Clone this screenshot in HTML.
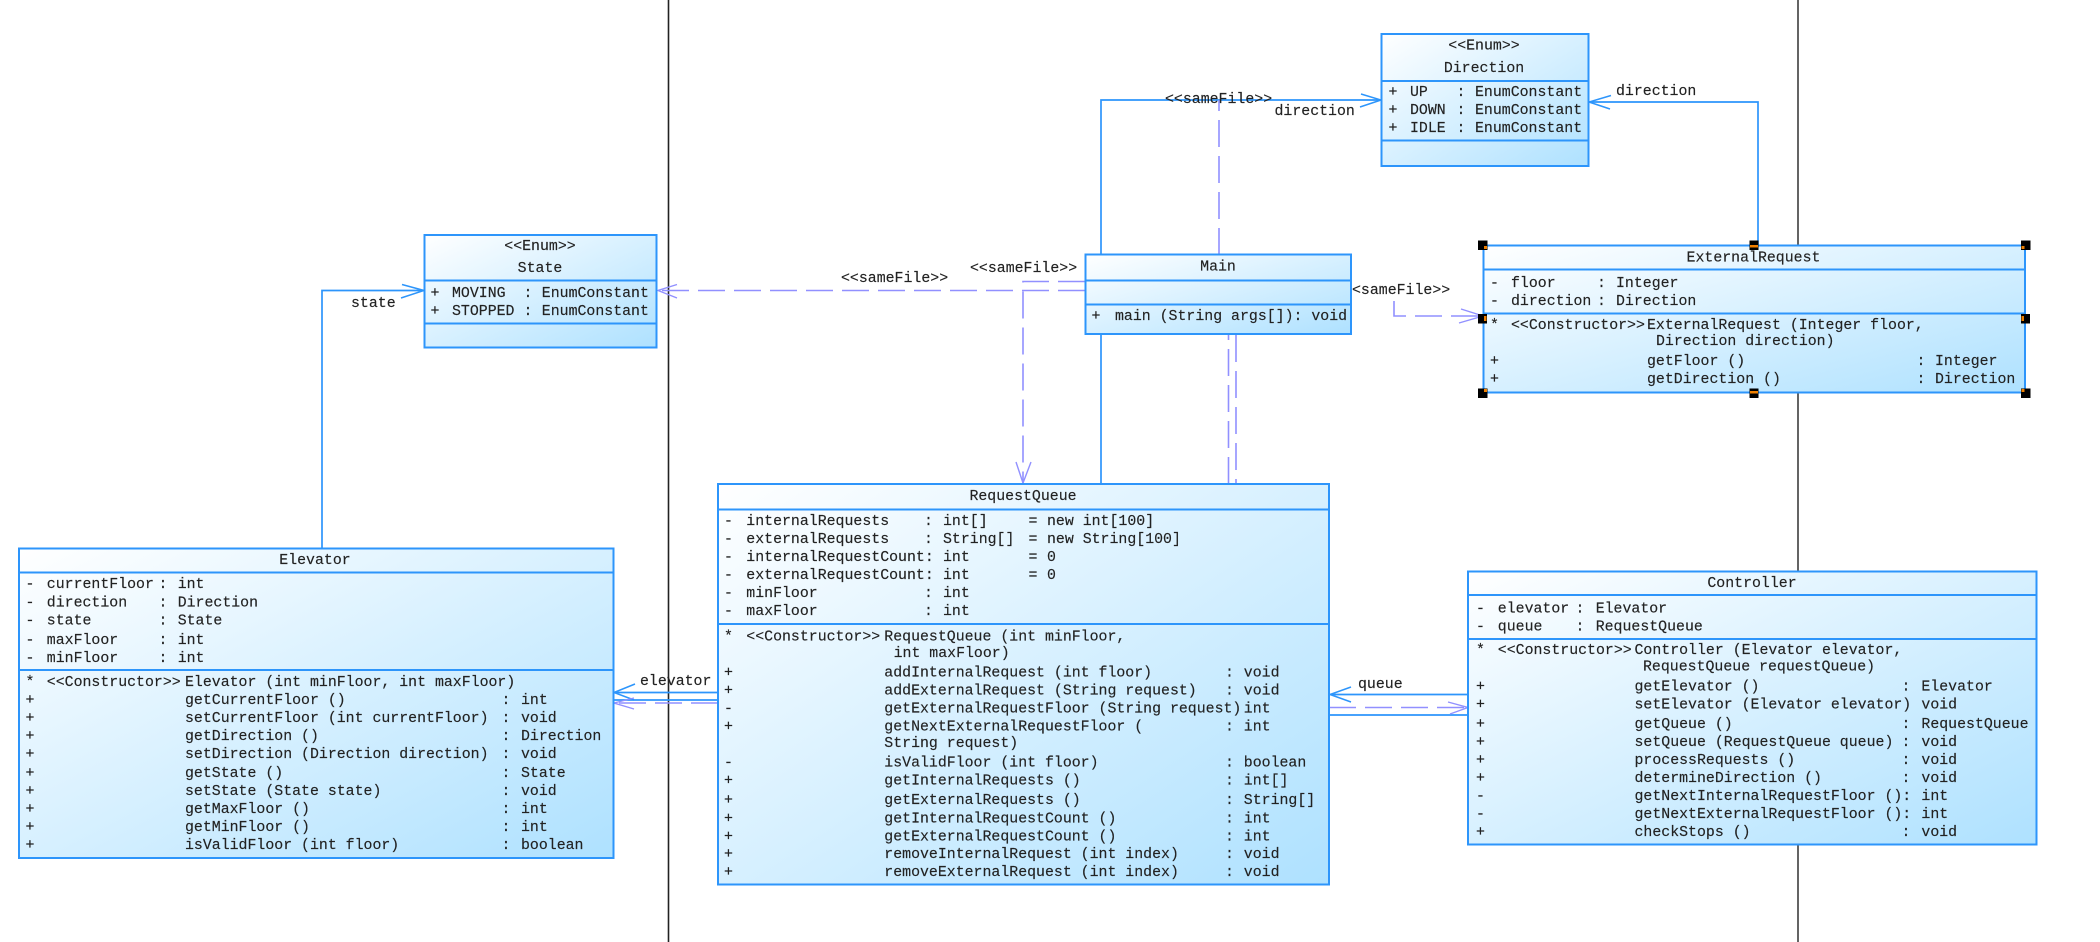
<!DOCTYPE html>
<html><head><meta charset="utf-8"><style>
html,body{margin:0;padding:0;background:#fff;width:2100px;height:942px;overflow:hidden}
svg{display:block}
text{font-family:"Liberation Mono",monospace;font-size:14.88px;fill:#222;white-space:pre;stroke:#222;stroke-width:.15}
.c{text-anchor:middle}
.box{fill:url(#g);stroke:#2d95fb;stroke-width:2}
.sep{stroke:#2d95fb;stroke-width:2}
.s{fill:none;stroke:#2d95fb;stroke-width:1.7}
.h{fill:none;stroke:#2d95fb;stroke-width:1.5}
.d{fill:none;stroke:#9190ff;stroke-width:1.6;stroke-dasharray:27 9}
.a{fill:none;stroke:#9190ff;stroke-width:1.4}
.t{filter:blur(.3px)}
</style></head><body>
<svg xmlns="http://www.w3.org/2000/svg" width="2100" height="942" viewBox="0 0 2100 942">
<defs><linearGradient id="g" x1="0" y1="0" x2="1" y2="1"><stop offset="0" stop-color="#fff"/><stop offset="1" stop-color="#aee1ff"/></linearGradient></defs>
<rect width="2100" height="942" fill="#fff"/>
<line x1="668.5" y1="0" x2="668.5" y2="942" stroke="#222" stroke-width="1.6"/>
<line x1="1798" y1="0" x2="1798" y2="942" stroke="#222" stroke-width="1.4"/>

<!-- connectors -->
<path class="s" d="M322 549V290.5H424"/>
<path class="h" d="M402 284.5L424 290.5L401 298"/>
<path class="s" d="M1101 484V100H1381"/>
<path class="h" d="M1361 94L1381 100L1360 107"/>
<path class="s" d="M1758 246V102H1588"/>
<path class="h" d="M1611 95.5L1589 102L1610 109"/>
<path class="s" d="M718 692.5H613"/>
<path class="s" d="M718 700H613"/>
<path class="h" d="M635 684L614 692.5L634 700"/>
<path class="s" d="M1468 694.5H1329"/>
<path class="s" d="M1468 715H1329"/>
<path class="h" d="M1351 687L1330 694.5L1351 702"/>

<path class="d" d="M1085 290.5H657"/>
<path class="a" d="M677 284.5L658 290.5L677 298"/>
<path class="d" d="M1085 281.5H1023V484"/>
<path class="a" d="M1016 462L1023 483L1031 462"/>
<path class="d" d="M1219 255V100"/>
<path class="d" d="M1228.5 484V335"/>
<path class="d" d="M1236 335V484"/>
<path class="d" d="M1394 301V316H1483"/>
<path class="a" d="M1461 309L1483 316L1459 323"/>
<path class="d" d="M718 703H613"/>
<path class="a" d="M634 698L614 703L634 709"/>
<path class="d" d="M1329 707.5H1468"/>
<path class="a" d="M1448 702L1468 707.5L1450 714"/>

<!-- State -->
<rect class="box" x="424.5" y="235" width="232" height="112.5"/>
<path class="sep" d="M424.5 280.5H656.5M424.5 323.5H656.5"/>
<!-- Direction -->
<rect class="box" x="1381.5" y="34" width="207" height="132"/>
<path class="sep" d="M1381.5 81H1588.5M1381.5 140.5H1588.5"/>
<!-- Main -->
<rect class="box" x="1085.5" y="254.5" width="265.5" height="79.5"/>
<path class="sep" d="M1085.5 280.5H1351M1085.5 304.5H1351"/>
<!-- ExternalRequest -->
<rect class="box" x="1483.5" y="245.5" width="541.5" height="147"/>
<path class="sep" d="M1483.5 269.5H2025M1483.5 313.5H2025"/>
<!-- Elevator -->
<rect class="box" x="19" y="548.5" width="594.5" height="309.5"/>
<path class="sep" d="M19 572.5H613.5M19 670H613.5"/>
<!-- RequestQueue -->
<rect class="box" x="718" y="484" width="611" height="400.5"/>
<path class="sep" d="M718 509.5H1329M718 624H1329"/>
<!-- Controller -->
<rect class="box" x="1468" y="571.5" width="568.5" height="273"/>
<path class="sep" d="M1468 595H2036.5M1468 639H2036.5"/>

<!-- handles -->
<g fill="#000">
<rect x="1478" y="240.5" width="9.5" height="9.5"/><rect x="1749.5" y="240.5" width="9" height="9.5"/><rect x="2021" y="240.5" width="9.5" height="9.5"/>
<rect x="1478" y="314" width="9" height="9.5"/><rect x="2021" y="314" width="9" height="9.5"/>
<rect x="1478" y="388.5" width="9.5" height="9.5"/><rect x="1749.5" y="388.5" width="9" height="9.5"/><rect x="2021" y="388.5" width="9.5" height="9.5"/>
</g>
<g fill="#f08000">
<rect x="1484" y="246" width="3" height="3"/><rect x="1750" y="245" width="8" height="2.5"/><rect x="2021.5" y="246" width="3" height="3"/>
<rect x="1484" y="316" width="2.5" height="5"/><rect x="2021.5" y="316" width="2.5" height="5"/>
<rect x="1484" y="389" width="3" height="3"/><rect x="1750" y="391" width="8" height="2.5"/><rect x="2021.5" y="389" width="3" height="3"/>
</g>

<g class="t">
<!-- connector labels -->
<text x="351" y="307">state</text>
<text x="841" y="282">&lt;&lt;sameFile&gt;&gt;</text>
<text x="970" y="272">&lt;&lt;sameFile&gt;&gt;</text>
<text x="1165" y="103">&lt;&lt;sameFile&gt;&gt;</text>
<text x="1274.5" y="115">direction</text>
<text x="1616" y="95">direction</text>
<text x="1352" y="294">&lt;sameFile&gt;&gt;</text>
<text x="640" y="685">elevator</text>
<text x="1358" y="688">queue</text>

<!-- State -->
<text class="c" x="540" y="250">&lt;&lt;Enum&gt;&gt;</text>
<text class="c" x="540" y="272">State</text>
<text x="430.5" y="297">+</text><text x="452" y="297">MOVING</text><text x="523.5" y="297">:</text><text x="541.8" y="297">EnumConstant</text>
<text x="430.5" y="315">+</text><text x="452" y="315">STOPPED</text><text x="523.5" y="315">:</text><text x="541.8" y="315">EnumConstant</text>

<!-- Direction -->
<text class="c" x="1484" y="49.5">&lt;&lt;Enum&gt;&gt;</text>
<text class="c" x="1484" y="72">Direction</text>
<text x="1388.5" y="96">+</text><text x="1410" y="96">UP</text><text x="1456.5" y="96">:</text><text x="1475" y="96">EnumConstant</text>
<text x="1388.5" y="114">+</text><text x="1410" y="114">DOWN</text><text x="1456.5" y="114">:</text><text x="1475" y="114">EnumConstant</text>
<text x="1388.5" y="132">+</text><text x="1410" y="132">IDLE</text><text x="1456.5" y="132">:</text><text x="1475" y="132">EnumConstant</text>

<!-- Main -->
<text class="c" x="1218" y="270.5">Main</text>
<text x="1091.5" y="320">+</text><text x="1115" y="320">main (String args[]): void</text>

<!-- ExternalRequest -->
<text class="c" x="1753.5" y="261.5">ExternalRequest</text>
<text x="1490" y="287">-</text><text x="1511" y="287">floor</text><text x="1597" y="287">:</text><text x="1616" y="287">Integer</text>
<text x="1490" y="305">-</text><text x="1511" y="305">direction</text><text x="1597" y="305">:</text><text x="1616" y="305">Direction</text>
<text x="1490" y="329">*</text><text x="1511" y="329">&lt;&lt;Constructor&gt;&gt;</text><text x="1647" y="329">ExternalRequest (Integer floor,</text>
<text x="1656" y="345">Direction direction)</text>
<text x="1490" y="365">+</text><text x="1647" y="365">getFloor ()</text><text x="1916.5" y="365">:</text><text x="1935" y="365">Integer</text>
<text x="1490" y="383">+</text><text x="1647" y="383">getDirection ()</text><text x="1916.5" y="383">:</text><text x="1935" y="383">Direction</text>

<!-- Elevator -->
<text class="c" x="315" y="564">Elevator</text>
<text x="25.5" y="588">-</text><text x="46.8" y="588">currentFloor</text><text x="158.5" y="588">:</text><text x="177.7" y="588">int</text>
<text x="25.5" y="606.5">-</text><text x="46.8" y="606.5">direction</text><text x="158.5" y="606.5">:</text><text x="177.7" y="606.5">Direction</text>
<text x="25.5" y="624.5">-</text><text x="46.8" y="624.5">state</text><text x="158.5" y="624.5">:</text><text x="177.7" y="624.5">State</text>
<text x="25.5" y="644">-</text><text x="46.8" y="644">maxFloor</text><text x="158.5" y="644">:</text><text x="177.7" y="644">int</text>
<text x="25.5" y="662">-</text><text x="46.8" y="662">minFloor</text><text x="158.5" y="662">:</text><text x="177.7" y="662">int</text>
<text x="25.5" y="686">*</text><text x="46.8" y="686">&lt;&lt;Constructor&gt;&gt;</text><text x="185" y="686">Elevator (int minFloor, int maxFloor)</text>
<text x="25.5" y="704">+</text><text x="185" y="704">getCurrentFloor ()</text><text x="501.5" y="704">:</text><text x="521" y="704">int</text>
<text x="25.5" y="722">+</text><text x="185" y="722">setCurrentFloor (int currentFloor)</text><text x="501.5" y="722">:</text><text x="521" y="722">void</text>
<text x="25.5" y="740">+</text><text x="185" y="740">getDirection ()</text><text x="501.5" y="740">:</text><text x="521" y="740">Direction</text>
<text x="25.5" y="758">+</text><text x="185" y="758">setDirection (Direction direction)</text><text x="501.5" y="758">:</text><text x="521" y="758">void</text>
<text x="25.5" y="777">+</text><text x="185" y="777">getState ()</text><text x="501.5" y="777">:</text><text x="521" y="777">State</text>
<text x="25.5" y="795">+</text><text x="185" y="795">setState (State state)</text><text x="501.5" y="795">:</text><text x="521" y="795">void</text>
<text x="25.5" y="813">+</text><text x="185" y="813">getMaxFloor ()</text><text x="501.5" y="813">:</text><text x="521" y="813">int</text>
<text x="25.5" y="831">+</text><text x="185" y="831">getMinFloor ()</text><text x="501.5" y="831">:</text><text x="521" y="831">int</text>
<text x="25.5" y="849">+</text><text x="185" y="849">isValidFloor (int floor)</text><text x="501.5" y="849">:</text><text x="521" y="849">boolean</text>

<!-- RequestQueue -->
<text class="c" x="1023" y="500">RequestQueue</text>
<text x="724" y="525">-</text><text x="746.3" y="525">internalRequests</text><text x="924" y="525">:</text><text x="943" y="525">int[]</text><text x="1028.5" y="525">=</text><text x="1047" y="525">new int[100]</text>
<text x="724" y="543">-</text><text x="746.3" y="543">externalRequests</text><text x="924" y="543">:</text><text x="943" y="543">String[]</text><text x="1028.5" y="543">=</text><text x="1047" y="543">new String[100]</text>
<text x="724" y="561">-</text><text x="746.3" y="561">internalRequestCount:</text><text x="943" y="561">int</text><text x="1028.5" y="561">=</text><text x="1047" y="561">0</text>
<text x="724" y="579">-</text><text x="746.3" y="579">externalRequestCount:</text><text x="943" y="579">int</text><text x="1028.5" y="579">=</text><text x="1047" y="579">0</text>
<text x="724" y="597">-</text><text x="746.3" y="597">minFloor</text><text x="924" y="597">:</text><text x="943" y="597">int</text>
<text x="724" y="615">-</text><text x="746.3" y="615">maxFloor</text><text x="924" y="615">:</text><text x="943" y="615">int</text>
<text x="724" y="640.5">*</text><text x="746.3" y="640.5">&lt;&lt;Constructor&gt;&gt;</text><text x="884.3" y="640.5">RequestQueue (int minFloor,</text>
<text x="893.6" y="657">int maxFloor)</text>
<text x="724" y="676.5">+</text><text x="884.3" y="676.5">addInternalRequest (int floor)</text><text x="1225" y="676.5">:</text><text x="1243.8" y="676.5">void</text>
<text x="724" y="694.5">+</text><text x="884.3" y="694.5">addExternalRequest (String request)</text><text x="1225" y="694.5">:</text><text x="1243.8" y="694.5">void</text>
<text x="724" y="712.5">-</text><text x="884.3" y="712.5">getExternalRequestFloor (String request)</text><text x="1243.8" y="712.5">int</text>
<text x="724" y="730.5">+</text><text x="884.3" y="730.5">getNextExternalRequestFloor (</text><text x="1225" y="730.5">:</text><text x="1243.8" y="730.5">int</text>
<text x="884.3" y="747">String request)</text>
<text x="724" y="766.5">-</text><text x="884.3" y="766.5">isValidFloor (int floor)</text><text x="1225" y="766.5">:</text><text x="1243.8" y="766.5">boolean</text>
<text x="724" y="784.5">+</text><text x="884.3" y="784.5">getInternalRequests ()</text><text x="1225" y="784.5">:</text><text x="1243.8" y="784.5">int[]</text>
<text x="724" y="804">+</text><text x="884.3" y="804">getExternalRequests ()</text><text x="1225" y="804">:</text><text x="1243.8" y="804">String[]</text>
<text x="724" y="822.5">+</text><text x="884.3" y="822.5">getInternalRequestCount ()</text><text x="1225" y="822.5">:</text><text x="1243.8" y="822.5">int</text>
<text x="724" y="840.5">+</text><text x="884.3" y="840.5">getExternalRequestCount ()</text><text x="1225" y="840.5">:</text><text x="1243.8" y="840.5">int</text>
<text x="724" y="858">+</text><text x="884.3" y="858">removeInternalRequest (int index)</text><text x="1225" y="858">:</text><text x="1243.8" y="858">void</text>
<text x="724" y="876">+</text><text x="884.3" y="876">removeExternalRequest (int index)</text><text x="1225" y="876">:</text><text x="1243.8" y="876">void</text>

<!-- Controller -->
<text class="c" x="1752" y="587">Controller</text>
<text x="1476" y="612.5">-</text><text x="1497.8" y="612.5">elevator</text><text x="1575.5" y="612.5">:</text><text x="1595.7" y="612.5">Elevator</text>
<text x="1476" y="630.5">-</text><text x="1497.8" y="630.5">queue</text><text x="1575.5" y="630.5">:</text><text x="1595.7" y="630.5">RequestQueue</text>
<text x="1476" y="654">*</text><text x="1497.8" y="654">&lt;&lt;Constructor&gt;&gt;</text><text x="1634.5" y="654">Controller (Elevator elevator,</text>
<text x="1643" y="670.5">RequestQueue requestQueue)</text>
<text x="1476" y="690.5">+</text><text x="1634.5" y="690.5">getElevator ()</text><text x="1901.5" y="690.5">:</text><text x="1921.4" y="690.5">Elevator</text>
<text x="1476" y="708.5">+</text><text x="1634.5" y="708.5">setElevator (Elevator elevator)</text><text x="1921.4" y="708.5">void</text>
<text x="1476" y="728">+</text><text x="1634.5" y="728">getQueue ()</text><text x="1901.5" y="728">:</text><text x="1921.4" y="728">RequestQueue</text>
<text x="1476" y="746">+</text><text x="1634.5" y="746">setQueue (RequestQueue queue)</text><text x="1901.5" y="746">:</text><text x="1921.4" y="746">void</text>
<text x="1476" y="764">+</text><text x="1634.5" y="764">processRequests ()</text><text x="1901.5" y="764">:</text><text x="1921.4" y="764">void</text>
<text x="1476" y="782">+</text><text x="1634.5" y="782">determineDirection ()</text><text x="1901.5" y="782">:</text><text x="1921.4" y="782">void</text>
<text x="1476" y="800">-</text><text x="1634.5" y="800">getNextInternalRequestFloor ():</text><text x="1921.4" y="800">int</text>
<text x="1476" y="818">-</text><text x="1634.5" y="818">getNextExternalRequestFloor ():</text><text x="1921.4" y="818">int</text>
<text x="1476" y="836">+</text><text x="1634.5" y="836">checkStops ()</text><text x="1901.5" y="836">:</text><text x="1921.4" y="836">void</text>
</g>
</svg>
</body></html>
